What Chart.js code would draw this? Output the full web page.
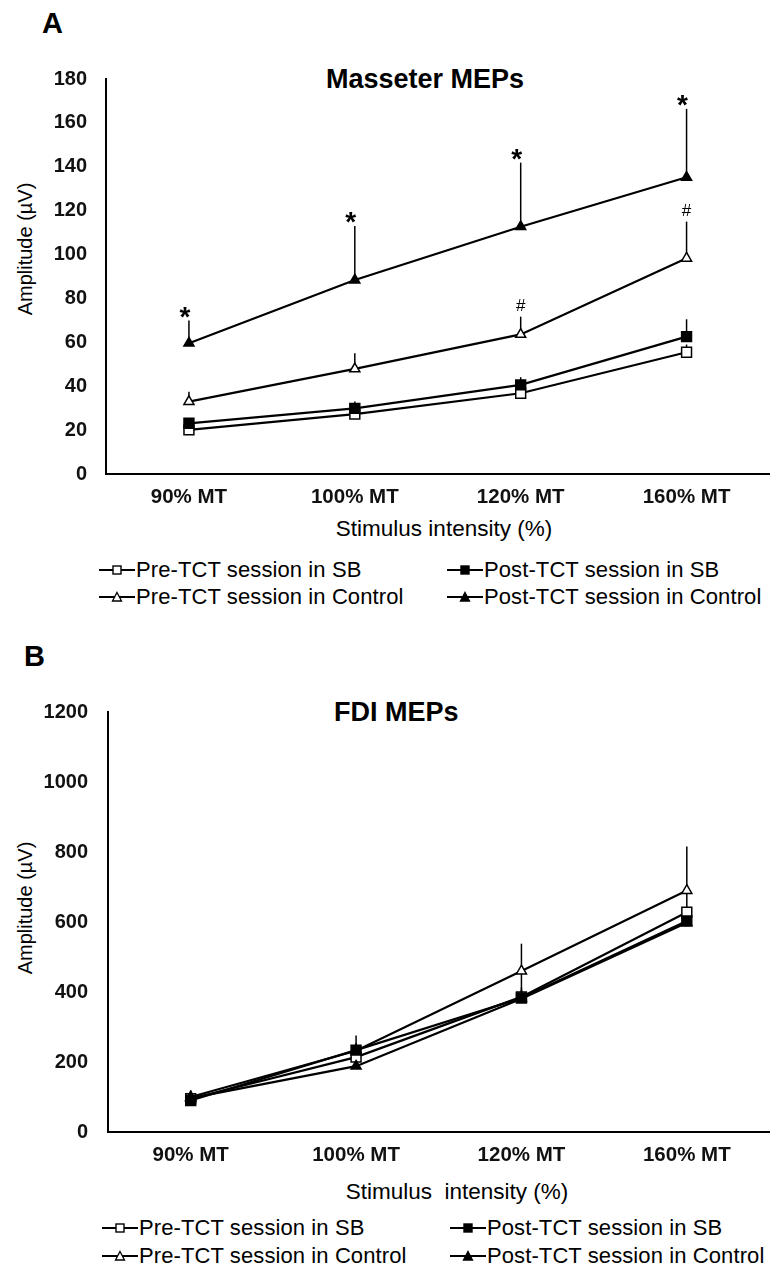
<!DOCTYPE html>
<html>
<head>
<meta charset="utf-8">
<script src="https://cdn.jsdelivr.net/npm/chart.js@4.4.0/dist/chart.umd.min.js"></script>
<style>
  html, body { margin: 0; padding: 0; background: #fff; }
  body { width: 778px; height: 1273px; position: relative; overflow: hidden;
         font-family: "Liberation Sans", Arial, sans-serif; color: #000; }
  canvas { position: absolute; left: 0; }
  .txt { position: absolute; line-height: 1; white-space: pre; }
  .panel { font-weight: bold; font-size: 29px; }
  .title { font-weight: bold; font-size: 27px; }
  .ytitle { font-size: 20px; width: 300px; text-align: center; transform: rotate(-90deg); }
  .xtitle { font-size: 22.5px; width: 400px; text-align: center; }
  .leg { position: absolute; display: flex; align-items: center; height: 24px;
         font-size: 22px; letter-spacing: 0.1px; white-space: nowrap; }
  .leg svg { margin-right: 1px; }
</style>
</head>
<body>

<div class="txt panel" style="left:42px; top:9px;">A</div>
<div class="txt title" style="left:326px; top:66px;">Masseter MEPs</div>
<div class="txt ytitle" style="left:-125px; top:239px;">Amplitude (µV)</div>
<div class="txt xtitle" style="left:244px; top:518px;">Stimulus intensity (%)</div>
<canvas id="chart-a" width="778" height="520" style="top:0px;"></canvas>
<div id="legend-a"></div>

<div class="txt panel" style="left:24px; top:642px;">B</div>
<div class="txt title" style="left:334px; top:699px;">FDI MEPs</div>
<div class="txt ytitle" style="left:-125px; top:898px;">Amplitude (µV)</div>
<div class="txt xtitle" style="left:257px; top:1181px;">Stimulus  intensity (%)</div>
<canvas id="chart-b" width="778" height="538" style="top:640px;"></canvas>
<div id="legend-b"></div>

<script>
/* ============================================================
   MEP amplitude vs stimulus intensity
   A: Masseter, B: FDI – line charts with one-sided SE bars
   ============================================================ */

const FONT = '"Liberation Sans", Arial, sans-serif';

const categories = ['90% MT', '100% MT', '120% MT', '160% MT'];
const seriesNames = [
  'Pre-TCT session in SB',
  'Post-TCT session in SB',
  'Pre-TCT session in Control',
  'Post-TCT session in Control'
];

/* Panel A – Masseter (µV) */
const yTicksA = [0, 20, 40, 60, 80, 100, 120, 140, 160, 180];
const masPreSB       = [20.1, 27.3, 36.8, 55.5];
const masPreSBErr    = [1.5, 2, 2.5, 3.5];
const masPostSB      = [23.1, 29.9, 40.6, 62.6];
const masPostSBErr   = [2, 3.1, 3.5, 7.9];
const masPreCtrl     = [33.0, 47.9, 63.6, 98.3];
const masPreCtrlErr  = [4.5, 7.1, 8.1, 16.7];
const masPostCtrl    = [59.6, 88.4, 112.7, 135.2];
const masPostCtrlErr = [10.3, 24.6, 29.2, 31.2];
const masPreCtrlMarks  = ['', '', '#', '#'];
const masPostCtrlMarks = ['*', '*', '*', '*'];

/* Panel B – FDI (µV) */
const yTicksB = [0, 200, 400, 600, 800, 1000, 1200];
const fdiPreSB       = [95, 214, 386, 628];
const fdiPreSBErr    = [10, 25, 72, 62];
const fdiPostSB      = [90, 234, 383, 603];
const fdiPostSBErr   = [8, 20, 30, 20];
const fdiPreCtrl     = [100, 232, 460, 690];
const fdiPreCtrlErr  = [19, 44, 78, 126];
const fdiPostCtrl    = [97, 188, 381, 598];
const fdiPostCtrlErr = [8, 15, 25, 20];

/* marker look per series: [pointStyle, fill, draw order] */
const markerStyles = [
  ['rect', '#fff', 3],
  ['rect', '#000', 1],
  ['triangle', '#fff', 2],
  ['triangle', '#000', 0]
];

/* one-sided error bars (drawn under the markers) and significance marks */
const errorBars = {
  id: 'errorBars',
  beforeDatasetsDraw(chart) {
    const { ctx } = chart;
    const y = chart.scales.y;
    ctx.save();
    ctx.strokeStyle = '#000';
    ctx.lineWidth = 1.5;
    chart.data.datasets.forEach((ds, i) => {
      chart.getDatasetMeta(i).data.forEach((pt, j) => {
        const top = y.getPixelForValue(ds.data[j] + ds.errs[j]);
        ctx.beginPath();
        ctx.moveTo(pt.x, pt.y);
        ctx.lineTo(pt.x, top);
        ctx.stroke();
      });
    });
    ctx.restore();
  },
  afterDatasetsDraw(chart) {
    const { ctx } = chart;
    const y = chart.scales.y;
    ctx.save();
    ctx.fillStyle = '#000';
    ctx.textAlign = 'center';
    ctx.textBaseline = 'alphabetic';
    chart.data.datasets.forEach((ds, i) => {
      if (!ds.marks) return;
      chart.getDatasetMeta(i).data.forEach((pt, j) => {
        const m = ds.marks[j];
        if (!m) return;
        const top = y.getPixelForValue(ds.data[j] + ds.errs[j]);
        if (m === '*') {
          ctx.font = 'bold 28px ' + FONT;
          ctx.fillText(m, pt.x - 4, top + 5);
        } else {
          ctx.font = '17px ' + FONT;
          ctx.fillText(m, pt.x, top - 6);
        }
      });
    });
    ctx.restore();
  }
};

function makeDatasets(values, errs, marks) {
  return values.map((data, i) => ({
    label: seriesNames[i],
    data: data,
    errs: errs[i],
    marks: marks[i],
    order: markerStyles[i][2],
    borderColor: '#000',
    borderWidth: 2.2,
    tension: 0,
    fill: false,
    pointStyle: markerStyles[i][0],
    pointRadius: markerStyles[i][0] === 'rect' ? 7 : 5.8,
    pointBackgroundColor: markerStyles[i][1],
    pointBorderColor: '#000',
    pointBorderWidth: 1.5
  }));
}

function initPanel(id, datasets, p) {
  const ctx = document.getElementById(id);
  return new Chart(ctx, {
    type: 'line',
    data: { labels: categories, datasets: datasets },
    options: {
      responsive: false,
      animation: false,
      devicePixelRatio: 1,
      layout: { padding: { top: p.padTop, right: p.padRight, left: 0, bottom: 0 } },
      plugins: {
        legend: { display: false },
        tooltip: { enabled: false },
        title: { display: false }
      },
      scales: {
        x: {
          type: 'category',
          offset: true,
          grid: { display: false, drawTicks: false },
          border: { color: '#000', width: 2 },
          ticks: {
            color: '#111',
            font: { family: FONT, size: 20.5, weight: 'bold' },
            padding: 11,
            maxRotation: 0,
            autoSkip: false
          },
          afterFit: s => { s.height = 46; }
        },
        y: {
          min: 0,
          max: p.yTicks[p.yTicks.length - 1],
          grid: { display: false, drawTicks: false },
          border: { color: '#000', width: 2 },
          ticks: {
            color: '#111',
            font: { family: FONT, size: 20, weight: 'bold' },
            padding: p.yPad,
            callback: v => String(v)
          },
          afterBuildTicks: s => { s.ticks = p.yTicks.map(v => ({ value: v })); },
          afterFit: s => { s.width = p.yAxisW; }
        }
      }
    },
    plugins: [errorBars]
  });
}

/* HTML legend, two columns */
function symbolSvg(i) {
  const [style, fill] = markerStyles[i];
  const mark = style === 'rect'
    ? '<rect x="14" y="4" width="8" height="8" fill="' + fill + '" stroke="#000" stroke-width="1.4"/>'
    : '<polygon points="18,3.5 22.5,12 13.5,12" fill="' + fill + '" stroke="#000" stroke-width="1.3"/>';
  return '<svg width="36" height="16" viewBox="0 0 36 16">' +
    '<line x1="0" y1="8" x2="36" y2="8" stroke="#000" stroke-width="2"/>' + mark + '</svg>';
}

function buildLegend(id, cols, rows) {
  const el = document.getElementById(id);
  seriesNames.forEach((name, i) => {
    const d = document.createElement('div');
    d.className = 'leg';
    d.style.left = cols[i % 2] + 'px';
    d.style.top = (rows[Math.floor(i / 2)] - 12) + 'px';
    d.innerHTML = symbolSvg(i) + '<span>' + name + '</span>';
    el.appendChild(d);
  });
}

initPanel('chart-a', makeDatasets(
  [masPreSB, masPostSB, masPreCtrl, masPostCtrl],
  [masPreSBErr, masPostSBErr, masPreCtrlErr, masPostCtrlErr],
  [null, null, masPreCtrlMarks, masPostCtrlMarks]
), { padTop: 79, padRight: 2, yAxisW: 106, yPad: 19, yTicks: yTicksA });

initPanel('chart-b', makeDatasets(
  [fdiPreSB, fdiPostSB, fdiPreCtrl, fdiPostCtrl],
  [fdiPreSBErr, fdiPostSBErr, fdiPreCtrlErr, fdiPostCtrlErr],
  [null, null, null, null]
), { padTop: 72, padRight: 5, yAxisW: 108, yPad: 20, yTicks: yTicksB });

buildLegend('legend-a', [99, 447], [570, 597]);
buildLegend('legend-b', [102, 450], [1228, 1256]);
</script>
</body>
</html>
